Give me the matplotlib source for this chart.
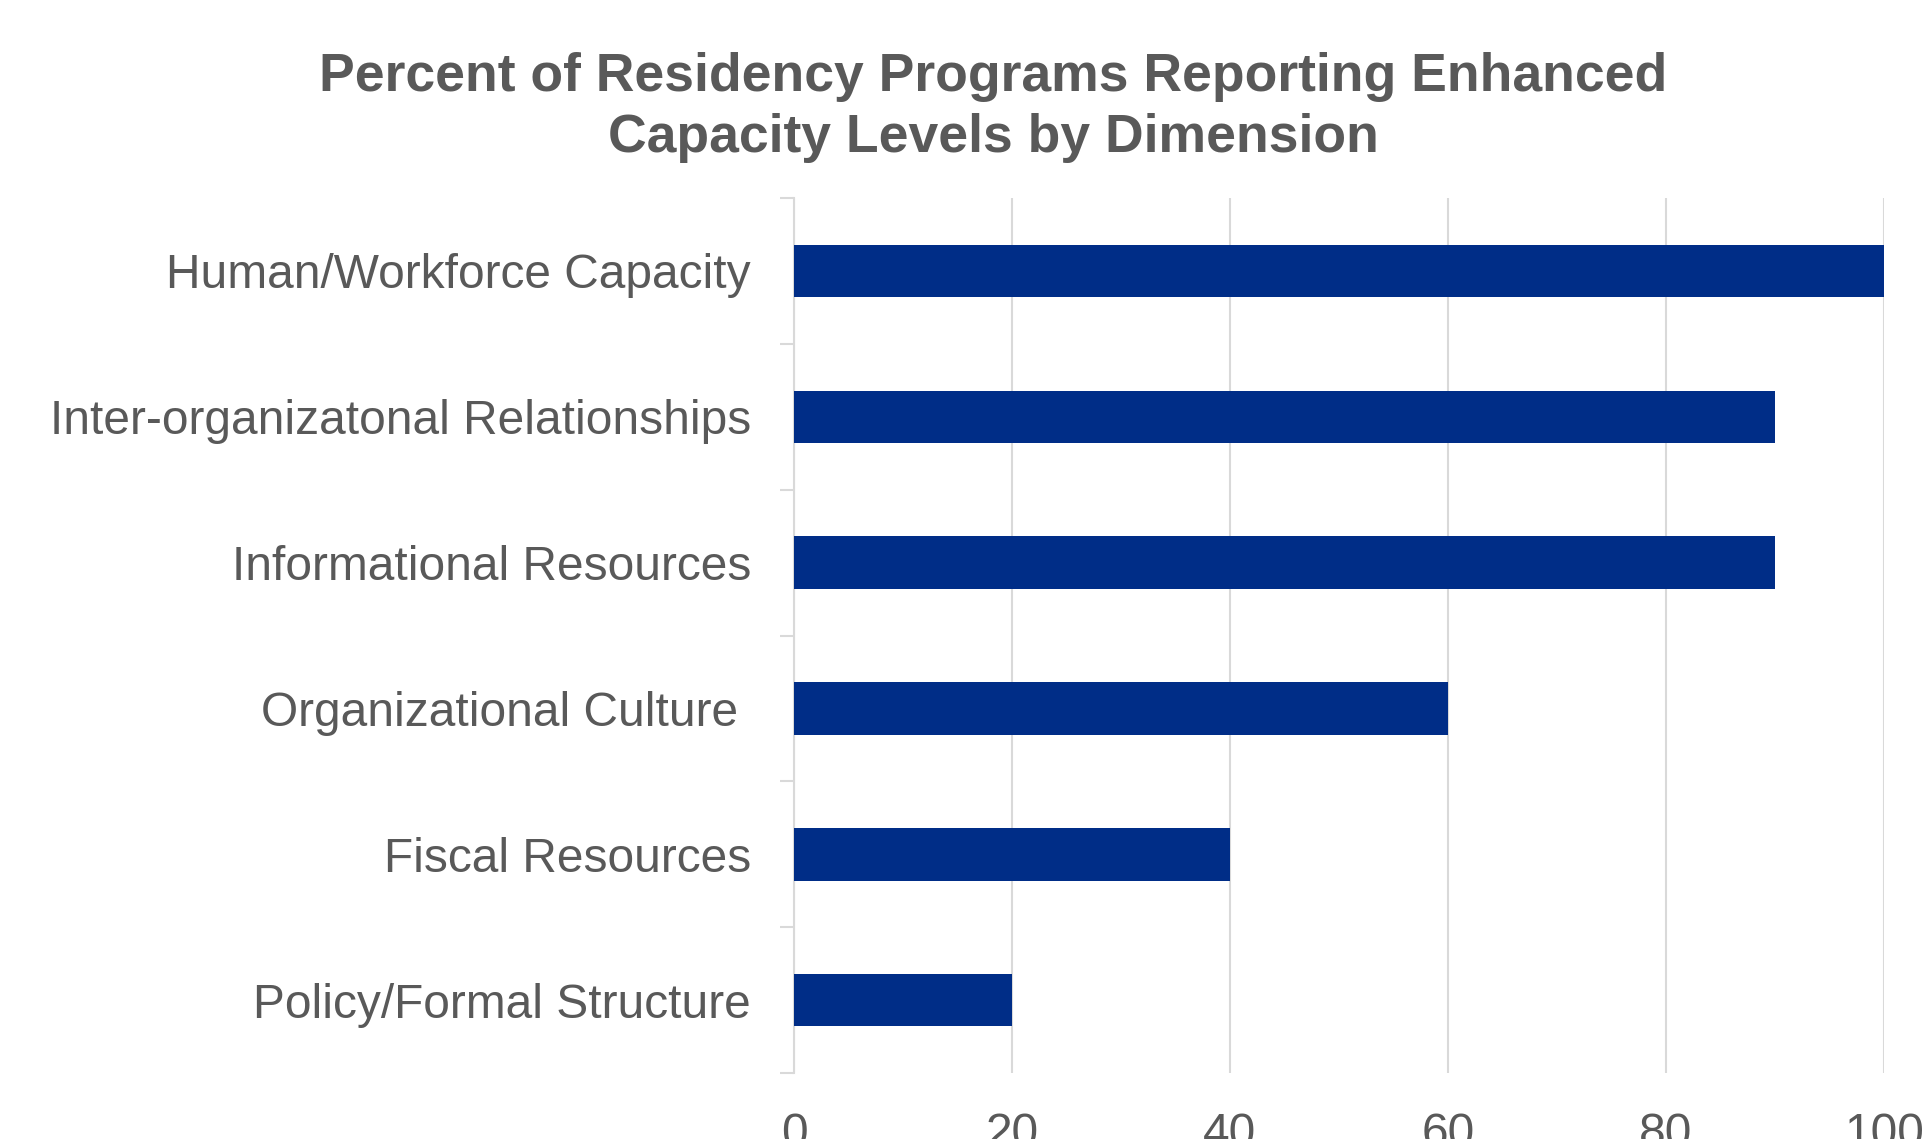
import matplotlib.pyplot as plt
import numpy as np

# data, top to bottom as in the chart
categories = ["Human/Workforce Capacity", "Inter-organizatonal Relationships",
              "Informational Resources", "Organizational Culture ",
              "Fiscal Resources", "Policy/Formal Structure"]
percents = [100, 90, 90, 60, 40, 20]
x_ticks = [0, 20, 40, 60, 80, 100]

plt.rcParams['font.family'] = ['Liberation Sans', 'DejaVu Sans']
text_color = '#595959'
grid_color = '#D9D9D9'

fig = plt.figure(figsize=(19.25, 11.39), dpi=100)
ax = fig.add_axes([794 / 1925, 1 - 1073 / 1139, 1090 / 1925, 875 / 1139])

y = np.arange(len(categories))
ax.barh(y, percents, height=0.36, color='#002D87', zorder=3)

ax.set_ylim(len(categories) - 0.5, -0.5)
ax.set_xlim(0, 100)
ax.set_yticks(y)
ax.set_yticklabels(categories)
ax.set_yticks(np.arange(len(categories) + 1) - 0.5, minor=True)
ax.set_xticks(x_ticks)

ax.tick_params(axis='y', which='major', length=0, pad=31, labelsize=34.5, labelcolor=text_color)
ax.tick_params(axis='y', which='minor', length=10, width=1.5, color=grid_color)
ax.tick_params(axis='x', which='major', length=0, pad=28, labelsize=34.5, labelcolor=text_color)

ax.grid(axis='x', color=grid_color, linewidth=1.5, zorder=0)
for s in ['top', 'right', 'bottom']:
    ax.spines[s].set_visible(False)
ax.spines['left'].set_color(grid_color)
ax.spines['left'].set_linewidth(1.5)

fig.text(0.516, 1 - 77 / 1139, "Percent of Residency Programs Reporting Enhanced",
         ha='center', va='center', fontsize=38.5, fontweight='bold', color=text_color)
fig.text(0.516, 1 - 138 / 1139, "Capacity Levels by Dimension",
         ha='center', va='center', fontsize=38.5, fontweight='bold', color=text_color)

plt.savefig('out.png', dpi=100)
plt.close()
